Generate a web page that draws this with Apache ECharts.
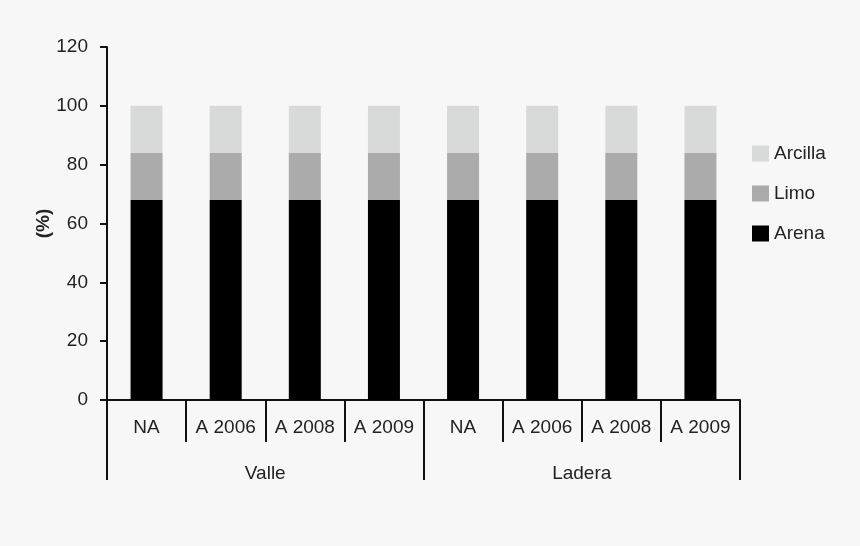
<!DOCTYPE html>
<html><head><meta charset="utf-8">
<script src="https://cdn.jsdelivr.net/npm/echarts@6/dist/echarts.min.js"></script>
<style>html,body{margin:0;padding:0;background:#f7f7f7;}#c{width:860px;height:546px;}</style>
</head><body><div id="c"></div>
<script>
const categories = ['NA','A 2006','A 2008','A 2009','NA','A 2006','A 2008','A 2009'];
const groups = ['Valle','Ladera'];
const arena = [68,68,68,68,68,68,68,68];
const limo = [16,16,16,16,16,16,16,16];
const arcilla = [16,16,16,16,16,16,16,16];
const yTicks = {min:0,max:120,interval:20};

const chart = echarts.init(document.getElementById('c'));
const font = 'Liberation Sans, Arial, sans-serif';
const lineStyle = {color:'#111',width:2};
chart.setOption({
  backgroundColor:'#f7f7f7',
  animation:false,
  textStyle:{fontFamily:font},
  grid:{left:107,right:120,top:47,bottom:146},
  legend:{
    orient:'vertical',left:747,top:139,itemWidth:17,itemHeight:16,itemGap:21,
    icon:'rect',
    data:['Arcilla','Limo','Arena'],
    textStyle:{fontSize:19,color:'#222',fontFamily:font}
  },
  xAxis:[{
    type:'category',data:categories,position:'bottom',
    axisLine:{lineStyle:lineStyle},
    axisTick:{show:true,interval:0,length:42,lineStyle:lineStyle},
    axisLabel:{interval:0,fontSize:19,color:'#222',margin:18,fontFamily:font}
  },{
    type:'category',data:groups,position:'bottom',offset:0,
    axisLine:{show:false},
    axisTick:{show:true,interval:0,length:80,lineStyle:lineStyle},
    axisLabel:{interval:0,fontSize:19,color:'#222',margin:64,fontFamily:font}
  }],
  yAxis:{
    type:'value',min:yTicks.min,max:yTicks.max,interval:yTicks.interval,
    name:'(%)',nameLocation:'middle',nameGap:54,nameMoveOverlap:false,
    nameTextStyle:{fontSize:19,fontWeight:'bold',color:'#222',fontFamily:font},
    axisLine:{show:true,lineStyle:lineStyle},
    axisTick:{show:true,length:7,lineStyle:lineStyle},
    splitLine:{show:false},
    axisLabel:{fontSize:19,color:'#222',margin:19,fontFamily:font}
  },
  series:[
    {name:'Arena',type:'bar',stack:'s',data:arena,barWidth:32,itemStyle:{color:'#000000'}},
    {name:'Limo',type:'bar',stack:'s',data:limo,barWidth:32,itemStyle:{color:'#ababac'}},
    {name:'Arcilla',type:'bar',stack:'s',data:arcilla,barWidth:32,itemStyle:{color:'#d8d9d9'}}
  ]
});
</script></body></html>
